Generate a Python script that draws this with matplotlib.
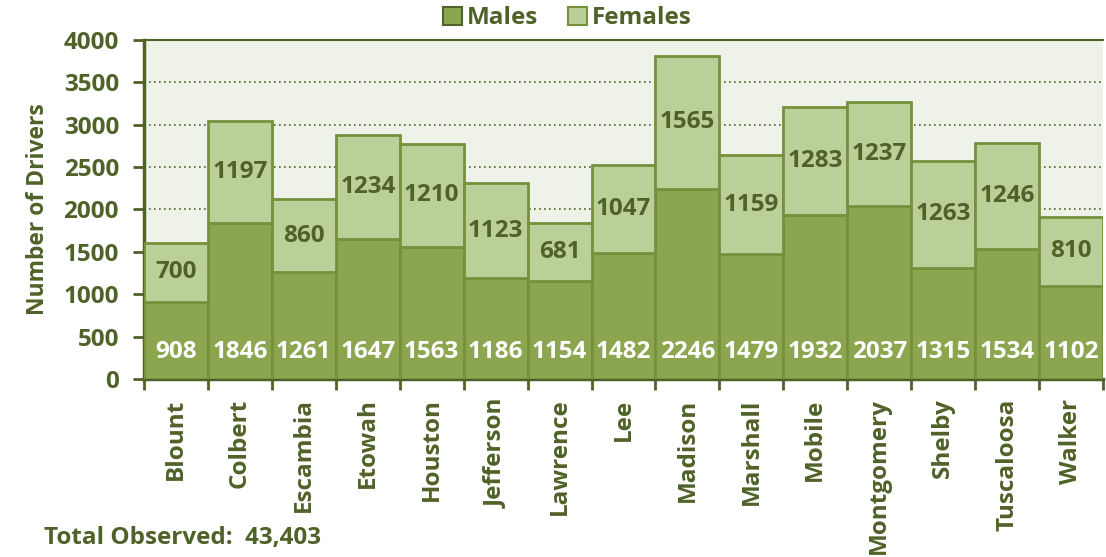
import matplotlib

matplotlib.use("Agg")
import matplotlib.pyplot as plt
from matplotlib.patches import Patch
import numpy as np

INK = "#4F6228"
MALE = "#8BA64F"
FEMALE = "#BBCF98"
EDGE = "#75913C"
PLOT_BG = "#EEF2E9"

counties = ["Blount", "Colbert", "Escambia", "Etowah", "Houston", "Jefferson",
            "Lawrence", "Lee", "Madison", "Marshall", "Mobile", "Montgomery",
            "Shelby", "Tuscaloosa", "Walker"]
males = [908, 1846, 1261, 1647, 1563, 1186, 1154, 1482, 2246, 1479, 1932, 2037, 1315, 1534, 1102]
females = [700, 1197, 860, 1234, 1210, 1123, 681, 1047, 1565, 1159, 1283, 1237, 1263, 1246, 810]
yticks = [0, 500, 1000, 1500, 2000, 2500, 3000, 3500, 4000]
total_label = "Total Observed:  43,403"

plt.rcParams["font.family"] = ["Open Sans", "DejaVu Sans"]
plt.rcParams["font.weight"] = "bold"
FS = 17.5

fig = plt.figure(figsize=(11.06, 5.57), dpi=100)
ax = fig.add_axes([0.1302, 0.3196, 0.8671, 0.6086])
ax.set_facecolor(PLOT_BG)

x = np.arange(len(counties))
ax.bar(x, males, width=1.0, color=MALE, edgecolor=EDGE, linewidth=2, zorder=3, label="Males")
ax.bar(x, females, width=1.0, bottom=males, color=FEMALE, edgecolor=EDGE, linewidth=2,
       zorder=3, label="Females")

for i, (m, f) in enumerate(zip(males, females)):
    ax.text(i, 320, str(m), ha="center", va="center", color="white", fontsize=FS,
            fontweight="bold", zorder=4)
    ax.text(i, m + f / 2, str(f), ha="center", va="center", color=INK, fontsize=FS,
            fontweight="bold", zorder=4)

ax.set_xlim(-0.5, len(counties) - 0.5)
ax.set_ylim(0, 4000)
ax.set_yticks(yticks)
ax.set_yticklabels([str(v) for v in yticks])
ax.yaxis.grid(True, linestyle=(0, (1, 2)), color=INK, linewidth=1.2, zorder=0)
ax.set_axisbelow(True)

# category ticks sit between bars, names centred under bars
ax.set_xticks(np.arange(len(counties) + 1) - 0.5)
ax.set_xticklabels([])
ax.set_xticks(x, minor=True)
ax.set_xticklabels(counties, minor=True, rotation=90, fontsize=FS, fontweight="bold", color=INK)
ax.tick_params(axis="x", which="minor", length=0, pad=14)
ax.tick_params(axis="x", which="major", length=8, width=2, color=INK, direction="out")
ax.tick_params(axis="y", length=8, width=2, color=INK, labelsize=FS, labelcolor=INK, pad=10)

for s in ax.spines.values():
    s.set_color(INK)
    s.set_linewidth(1.5)
ax.spines["left"].set_linewidth(2.5)
ax.spines["bottom"].set_linewidth(2.5)
ax.spines["right"].set_visible(False)

ax.set_ylabel("Number of Drivers", fontsize=16.5, fontweight="bold", color=INK, labelpad=10)

handles = [Patch(facecolor=MALE, edgecolor=INK, linewidth=1.5, label="Males"),
           Patch(facecolor=FEMALE, edgecolor=EDGE, linewidth=1.5, label="Females")]
leg = fig.legend(handles=handles, loc="center", bbox_to_anchor=(0.513, 0.967), ncol=2,
                 frameon=False, fontsize=FS, handlelength=0.8, handleheight=0.8,
                 handletextpad=0.2, columnspacing=1.2)
for t in leg.get_texts():
    t.set_color(INK)
    t.set_fontweight("bold")

fig.text(0.04, 0.035, total_label, fontsize=FS, fontweight="bold", color=INK, va="center")

fig.savefig("out.png", dpi=100, facecolor="white")
